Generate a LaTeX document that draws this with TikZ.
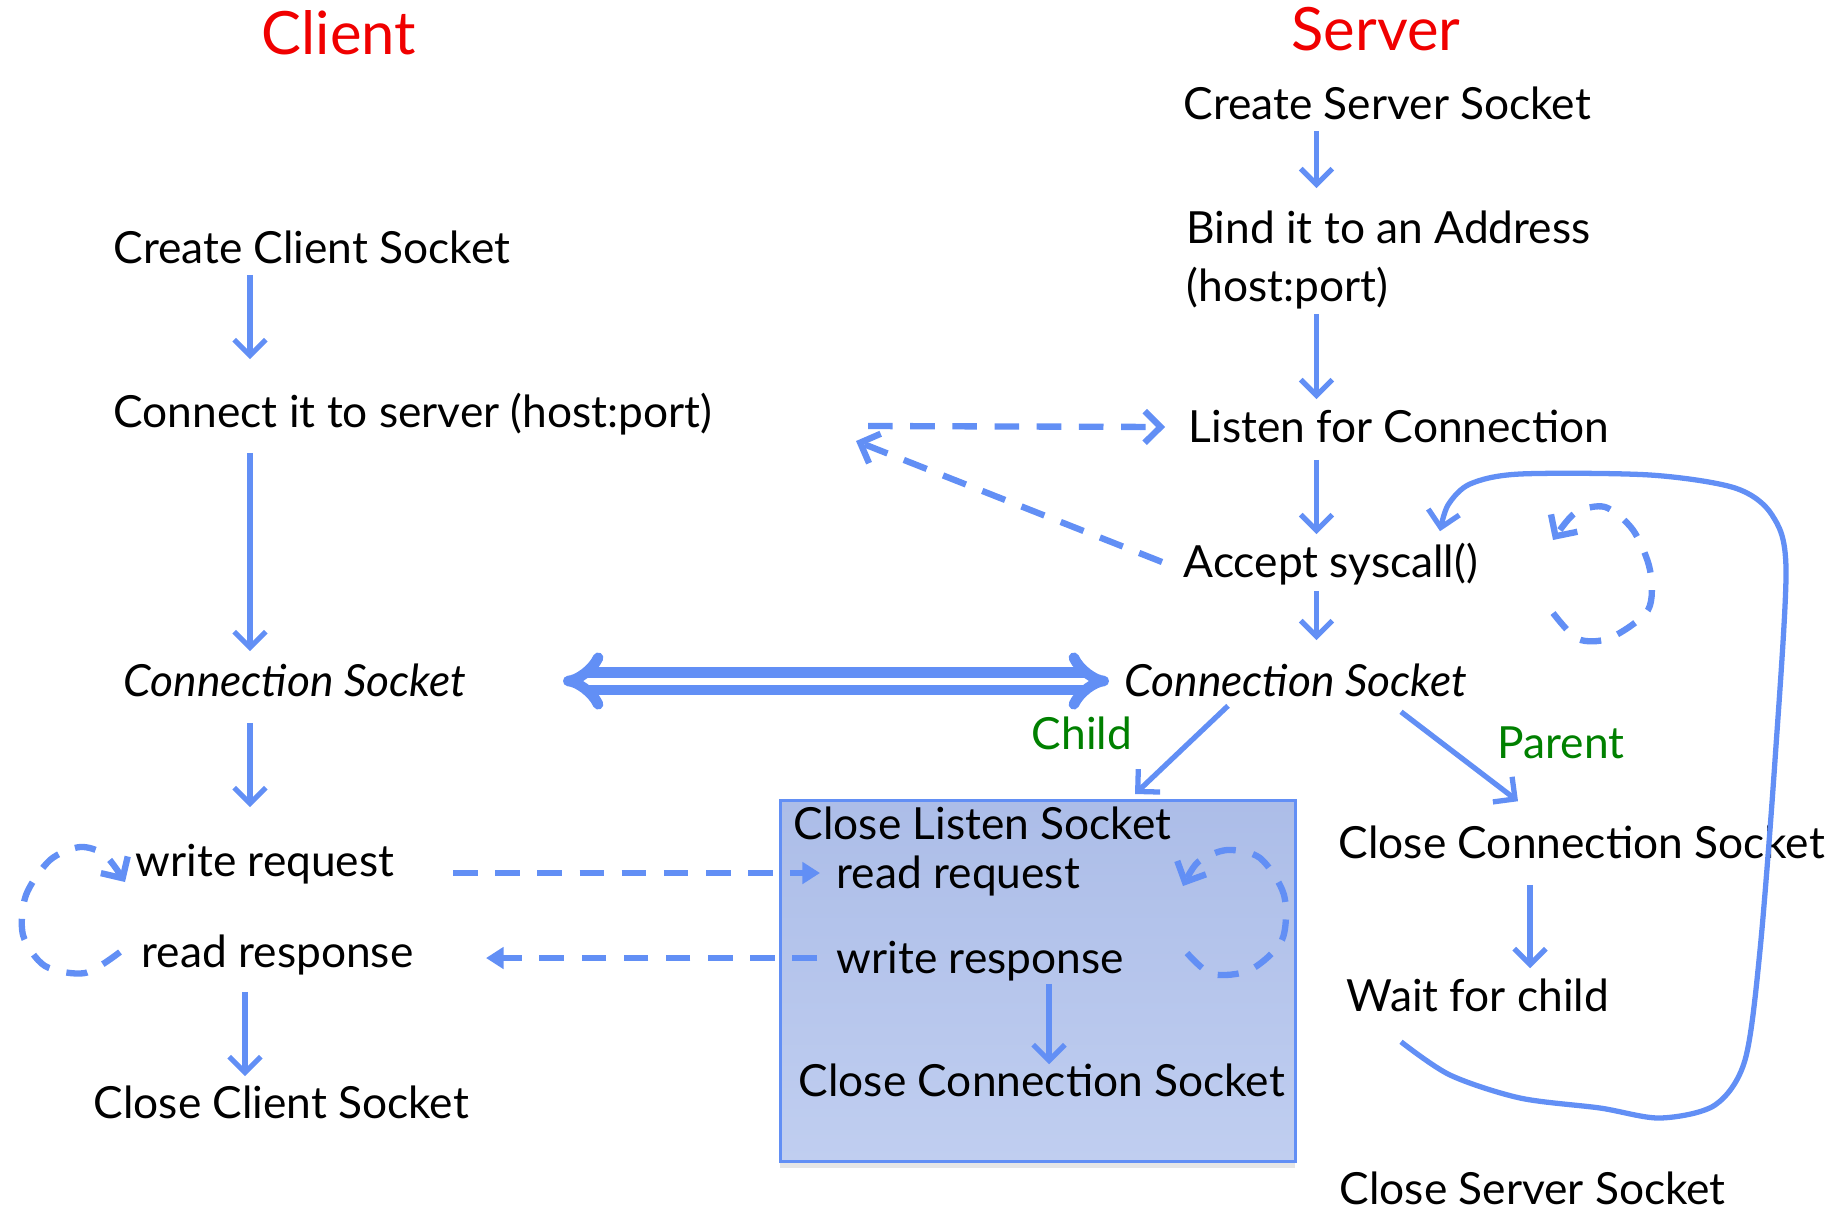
\documentclass[tikz,border=0pt]{standalone}
\usepackage{fontspec}
\setmainfont{Lato}
\usetikzlibrary{arrows.meta,shadows}
\definecolor{flowblue}{RGB}{98,143,245}
\definecolor{boxtop}{RGB}{172,189,232}
\definecolor{boxbot}{RGB}{192,206,240}
\definecolor{labgreen}{RGB}{0,128,0}
\definecolor{headred}{RGB}{240,0,0}
\tikzset{
  txt/.style={anchor=west, inner sep=0pt, font=\fontsize{12.6}{15}\selectfont, text height=10.4pt, text depth=1.6pt},
  sock/.style={txt, font=\fontsize{12.6}{15}\selectfont\itshape},
  head/.style={text=headred, font=\fontsize{17}{20}\selectfont},
  branch/.style={text=labgreen, font=\fontsize{12.6}{15}\selectfont},
  flow/.style={draw=flowblue, line width=1.5pt, -{Straight Barb[length=4.5pt,width=9pt]}},
  msg/.style={draw=flowblue, line width=1.8pt, dash pattern=on 7pt off 5pt, -{Straight Barb[length=4.5pt,width=9pt]}},
  msgfill/.style={msg, -{Triangle[length=5pt,width=6pt]}},
  spin/.style={draw=flowblue, line width=1.8pt, dash pattern=on 6pt off 5pt, -{Straight Barb[length=4.5pt,width=9pt]}},
  worker/.style={draw=flowblue, line width=0.8pt, top color=boxtop, bottom color=boxbot, drop shadow={opacity=0.2, shadow xshift=0pt, shadow yshift=-2pt}}
}
\begin{document}
\begin{tikzpicture}
        \useasboundingbox (0,0) rectangle (18.31,-12.12);

        \node[worker, minimum width=5.15cm, minimum height=3.61cm, anchor=north west] (child box) at (7.79,-7.99) {};

        \node[head] (client) at (3.39,-0.33) {Client};
        \node[head] (server) at (13.76,-0.29) {Server};

        \node[txt] (ccs) at (1.13,-2.48) {Create Client Socket};
        \node[txt] (cits) at (1.13,-4.12) {Connect it to server (host:port)};
        \node[sock] (ccsock) at (1.23,-6.81) {Connection Socket};
        \node[txt] (wreq) at (1.35,-8.61) {write request};
        \node[txt] (rresp) at (1.41,-9.52) {read response};
        \node[txt] (cclose) at (0.93,-11.03) {Close Client Socket};

        \node[txt] (css) at (11.83,-1.04) {Create Server Socket};
        \node[txt] (bind) at (11.86,-2.28) {Bind it to an Address};
        \node[txt] (bindhp) at (11.86,-2.86) {(host:port)};
        \node[txt] (listen) at (11.88,-4.27) {Listen for Connection};
        \node[txt] (accept) at (11.83,-5.62) {Accept syscall()};
        \node[sock] (ssock) at (11.24,-6.81) {Connection Socket};
        \node[branch] (child) at (10.82,-7.33) {Child};
        \node[branch] (parent) at (15.61,-7.43) {Parent};
        \node[txt] (pclose) at (13.38,-8.43) {Close Connection Socket};
        \node[txt] (wait) at (13.46,-9.96) {Wait for child};
        \node[txt] (sclose) at (13.39,-11.89) {Close Server Socket};

        \node[txt] (clisten) at (7.93,-8.24) {Close Listen Socket};
        \node[txt] (rreq) at (8.36,-8.73) {read request};
        \node[txt] (wresp) at (8.36,-9.58) {write response};
        \node[txt] (cclose2) at (7.98,-10.81) {Close Connection Socket};

        \coordinate (cx) at (2.50,0);
        \coordinate (cx2) at (2.45,0);
        \coordinate (sx) at (13.165,0);
        \coordinate (px) at (15.30,0);
        \coordinate (bx) at (10.49,0);
        \coordinate (syn) at (8.68,-4.26);
        \coordinate (ack) at (8.56,-4.41);

        \draw[flow, shorten <=0.05cm, shorten >=0.31cm] (ccs.south -| cx) -- (cits.north -| cx);
        \draw[flow, shorten <=0.19cm, shorten >=0.08cm] (cits.south -| cx) -- (ccsock.north -| cx);
        \draw[flow, shorten <=0.20cm, shorten >=0.32cm] (ccsock.south -| cx) -- (wreq.north -| cx);
        \draw[flow, shorten <=0.18cm, shorten >=0.05cm] (rresp.south -| cx2) -- (cclose.north -| cx2);

        \draw[flow, shorten <=0.05cm, shorten >=0.18cm] (css.south -| sx) -- (bind.north -| sx);
        \draw[flow, shorten <=0.06cm, shorten >=0.06cm] (bindhp.south -| sx) -- (listen.north -| sx);
        \draw[flow, shorten <=0.11cm, shorten >=0.06cm] (listen.south -| sx) -- (accept.north -| sx);
        \draw[flow, shorten <=0.07cm, shorten >=0.19cm] (accept.south -| sx) -- (ssock.north -| sx);
        \draw[flow, shorten <=0.20cm, shorten >=0.06cm] (pclose.south -| px) -- (wait.north -| px);
        \draw[flow, shorten <=0.04cm, shorten >=-0.05cm] (wresp.south -| bx) -- (cclose2.north -| bx);

        \draw[flow] ([xshift=1.04cm, yshift=-0.03cm]ssock.south west) -- ([xshift=3.56cm, yshift=0.05cm]child box.north west);
        \draw[flow] ([xshift=2.77cm, yshift=-0.09cm]ssock.south west) -- ([xshift=1.80cm, yshift=0.20cm]pclose.north west);

        \draw[draw=flowblue, line width=3pt, double=white, double distance=2pt, {Implies}-{Implies}] ([xshift=4.40cm]ccsock.west) -- ([xshift=-0.15cm]ssock.west);

        \draw[msgfill] ([xshift=-3.83cm]rreq.west) -- ([xshift=-0.16cm]rreq.west);
        \draw[msgfill] ([xshift=-0.19cm]wresp.west) -- ([xshift=-3.50cm]wresp.west);
        \draw[msg] (syn) -- ([xshift=-0.23cm]listen.west);
        \draw[msg] ([xshift=-0.21cm]accept.west) -- (ack);

        \draw[spin] plot[smooth] coordinates {(1.20,-9.52) (0.85,-9.73) (0.45,-9.66) (0.23,-9.35) (0.26,-8.95) (0.50,-8.60) (0.80,-8.47) (1.05,-8.55) (1.25,-8.82)};
        \draw[spin] plot[smooth] coordinates {(11.87,-9.53) (12.12,-9.74) (12.50,-9.70) (12.82,-9.40) (12.84,-8.95) (12.60,-8.58) (12.27,-8.50) (11.98,-8.62) (11.83,-8.86)};
        \draw[spin] plot[smooth] coordinates {(15.53,-6.13) (15.78,-6.39) (16.10,-6.38) (16.48,-6.10) (16.50,-5.70) (16.33,-5.30) (16.05,-5.07) (15.75,-5.13) (15.53,-5.40)};

        \draw[flow] plot[smooth] coordinates {([xshift=0.55cm, yshift=-0.24cm]wait.south west) (14.50,-10.75) (15.20,-10.98) (16.00,-11.08) (16.60,-11.18) (17.15,-11.05) (17.45,-10.60) (17.60,-9.50) (17.75,-7.60) (17.86,-5.70) (17.72,-5.15) (17.35,-4.88) (16.50,-4.75) (15.20,-4.74) (14.70,-4.84) (14.48,-5.05) ([xshift=2.57cm, yshift=0.09cm]accept.north west)};

\end{tikzpicture}
\end{document}
